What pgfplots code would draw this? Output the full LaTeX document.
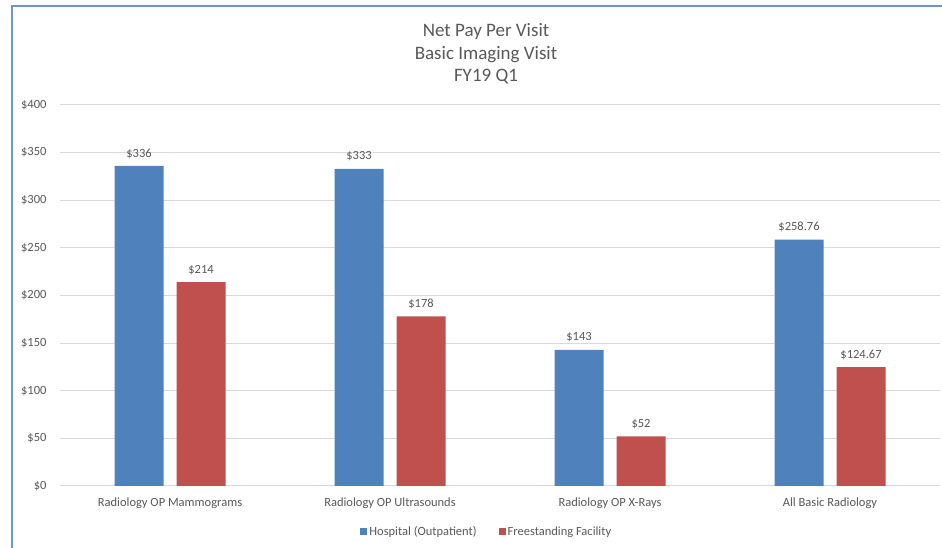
\documentclass[border=0pt]{standalone}
\usepackage{pgfplots}
\pgfplotsset{compat=1.18}
\usepackage{fontspec}
\setmainfont{Carlito}
\definecolor{hosp}{HTML}{4F81BD}
\definecolor{free}{HTML}{C0504D}
\definecolor{txt}{HTML}{595959}
\definecolor{grd}{HTML}{D9D9D9}
\definecolor{frame}{HTML}{7196CF}
\begin{document}
\begin{tikzpicture}[x=1pt,y=1pt]
\useasboundingbox (0pt,0pt) rectangle (942pt,548pt);
\fill[white] (0pt,0pt) rectangle (942pt,548pt);
\draw[frame, line width=1.5pt] (12pt,0pt) -- (12pt,542pt) -- (942pt,542pt);
\node[txt, align=center, font=\fontsize{19}{22.5}\selectfont] at (486pt,494pt) {Net Pay Per Visit\\Basic Imaging Visit\\FY19 Q1};
\begin{axis}[
  at={(60pt,62pt)}, anchor=south west, scale only axis,
  width=880pt, height=381pt,
  ymin=0, ymax=400, xmin=-0.5, xmax=3.5,
  ybar=13pt, bar width=49pt,
  axis line style={draw=none},
  major tick length=0pt,
  ymajorgrids, grid style={grd, line width=1pt},
  ytick={0,50,...,400},
  yticklabels={\$0,\$50,\$100,\$150,\$200,\$250,\$300,\$350,\$400},
  xtick={0,1,2,3},
  xticklabels={Radiology OP Mammograms,Radiology OP Ultrasounds,Radiology OP X-Rays,All Basic Radiology},
  tick label style={txt, font=\fontsize{12.5}{15}\selectfont},
  yticklabel style={xshift=-10pt},
  xticklabel style={yshift=-8pt},
  nodes near coords,
  point meta=explicit symbolic,
  nodes near coords style={txt, font=\fontsize{12.5}{15}\selectfont, anchor=south, yshift=4pt},
  legend style={at={(0.485,-0.1207)}, anchor=center, draw=none, fill=none,
    legend columns=2, font=\fontsize{12.5}{15}\selectfont, text=txt,
    /tikz/every even column/.append style={column sep=20pt}},
  legend image code/.code={\fill[#1] (0pt,-3.5pt) rectangle (7pt,3.5pt);},
]
\addplot[fill=hosp, draw=none] coordinates {(0,336) [\$336] (1,333) [\$333] (2,143) [\$143] (3,258.76) [\$258.76]};
\addplot[fill=free, draw=none] coordinates {(0,214) [\$214] (1,178) [\$178] (2,52) [\$52] (3,124.67) [\$124.67]};
\legend{Hospital (Outpatient),Freestanding Facility}
\end{axis}
\end{tikzpicture}
\end{document}
